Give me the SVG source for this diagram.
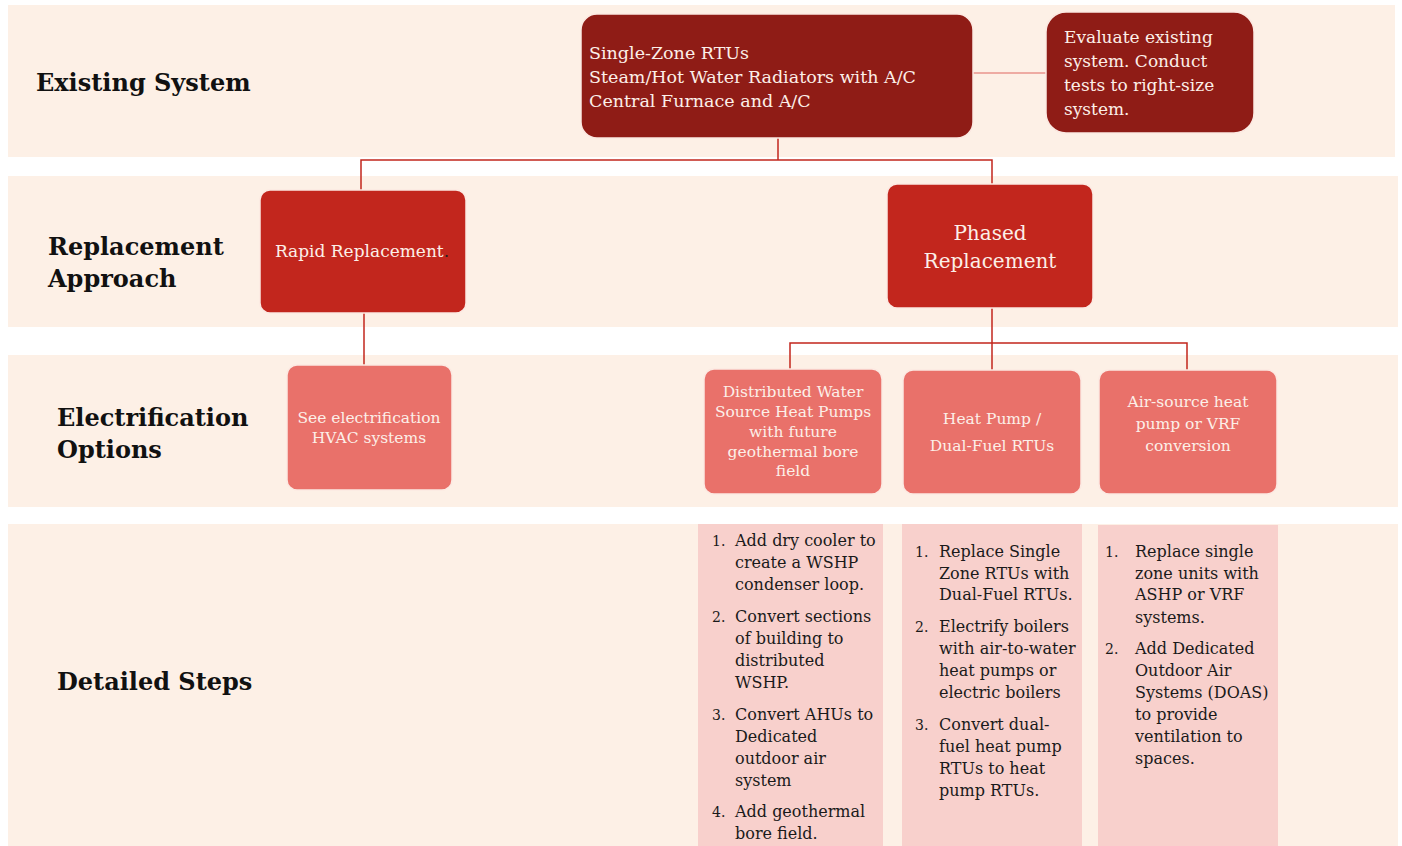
<svg xmlns="http://www.w3.org/2000/svg" width="1402" height="846" viewBox="0 0 1402 846">
<style>
.band{fill:#FDF0E6}
.lbl{font-family:"DejaVu Serif","Liberation Serif",serif;font-weight:bold;font-size:24px;fill:#111}
.box{stroke:#FCE9E2;stroke-width:1.5}
.dark{fill:#8F1C16}
.red{fill:#C2261D}
.sal{fill:#E9716A}
.pink{fill:#F8D0CC}
.wt{font-family:"DejaVu Serif","Liberation Serif",serif;fill:#FCEFE8}
.st{font-family:"DejaVu Serif","Liberation Serif",serif;font-size:16px;fill:#1a1a1a}
.con{fill:none;stroke:#C2261D;stroke-width:1.5}
</style>
<rect width="1402" height="846" fill="#ffffff"/>
<g id="bands">
<rect class="band" x="8" y="5" width="1387" height="152"/>
<rect class="band" x="8" y="176" width="1390" height="151"/>
<rect class="band" x="8" y="355" width="1390" height="152"/>
<rect class="band" x="8" y="524" width="1390" height="322"/>
</g>
<g id="labels">
<text class="lbl" x="36" y="91">Existing System</text>
<text class="lbl" x="48" y="255">Replacement</text>
<text class="lbl" x="48" y="287">Approach</text>
<text class="lbl" x="57" y="426">Electrification</text>
<text class="lbl" x="57" y="458">Options</text>
<text class="lbl" x="57" y="690">Detailed Steps</text>
</g>
<g id="connectors">
<line x1="973" y1="73" x2="1046" y2="73" stroke="#E8958D" stroke-width="1.5"/>
<polyline class="con" points="778,138 778,160"/>
<polyline class="con" points="361,190 361,160 992,160 992,184"/>
<polyline class="con" points="364,313 364,365"/>
<polyline class="con" points="992,308 992,370"/>
<polyline class="con" points="790,369 790,343 1187,343 1187,370"/>
</g>
<g id="existing">
<rect class="box dark" x="581" y="14" width="392" height="124" rx="16"/>
<text class="wt" font-size="17.5" x="589" y="59">Single-Zone RTUs</text>
<text class="wt" font-size="17.5" x="589" y="83">Steam/Hot Water Radiators with A/C</text>
<text class="wt" font-size="17.5" x="589" y="107">Central Furnace and A/C</text>
</g>
<g id="evaluate">
<rect class="box dark" x="1046" y="12" width="208" height="121" rx="20"/>
<text class="wt" font-size="17" x="1064" y="43">Evaluate existing</text>
<text class="wt" font-size="17" x="1064" y="67">system. Conduct</text>
<text class="wt" font-size="17" x="1064" y="91">tests to right-size</text>
<text class="wt" font-size="17" x="1064" y="115">system.</text>
</g>
<g id="rapid">
<rect class="box red" x="260" y="190" width="206" height="123" rx="10"/>
<text class="wt" font-size="17" x="362" y="257" text-anchor="middle">Rapid Replacement<tspan fill="#222">.</tspan></text>
</g>
<g id="phased">
<rect class="box red" x="887" y="184" width="206" height="124" rx="10"/>
<text class="wt" font-size="20" x="990" y="240" text-anchor="middle">Phased</text>
<text class="wt" font-size="20" x="990" y="268" text-anchor="middle">Replacement</text>
</g>
<g id="see-electrification">
<rect class="box sal" x="287" y="365" width="165" height="125" rx="10"/>
<text class="wt" font-size="15.5" x="369" y="423" text-anchor="middle">See electrification</text>
<text class="wt" font-size="15.5" x="369" y="443" text-anchor="middle">HVAC systems</text>
</g>
<g id="distributed">
<rect class="box sal" x="704" y="369" width="178" height="125" rx="10"/>
<text class="wt" font-size="15.5" x="793" y="397" text-anchor="middle">Distributed Water</text>
<text class="wt" font-size="15.5" x="793" y="417" text-anchor="middle">Source Heat Pumps</text>
<text class="wt" font-size="15.5" x="793" y="437" text-anchor="middle">with future</text>
<text class="wt" font-size="15.5" x="793" y="457" text-anchor="middle">geothermal bore</text>
<text class="wt" font-size="15.5" x="793" y="476" text-anchor="middle">field</text>
</g>
<g id="heat-pump">
<rect class="box sal" x="903" y="370" width="178" height="124" rx="10"/>
<text class="wt" font-size="15.5" x="992" y="424" text-anchor="middle">Heat Pump /</text>
<text class="wt" font-size="15.5" x="992" y="451" text-anchor="middle">Dual-Fuel RTUs</text>
</g>
<g id="air-source">
<rect class="box sal" x="1099" y="370" width="178" height="124" rx="10"/>
<text class="wt" font-size="15.5" x="1188" y="407" text-anchor="middle">Air-source heat</text>
<text class="wt" font-size="15.5" x="1188" y="429" text-anchor="middle">pump or VRF</text>
<text class="wt" font-size="15.5" x="1188" y="451" text-anchor="middle">conversion</text>
</g>
<g id="steps-wshp">
<rect class="pink" x="698" y="524" width="185" height="322"/>
<text class="st"><tspan x="712" y="546" font-size="14">1.</tspan><tspan x="735" y="546">Add dry cooler to</tspan><tspan x="735" y="568">create a WSHP</tspan><tspan x="735" y="590">condenser loop.</tspan>
<tspan x="712" y="622" font-size="14">2.</tspan><tspan x="735" y="622">Convert sections</tspan><tspan x="735" y="644">of building to</tspan><tspan x="735" y="666">distributed</tspan><tspan x="735" y="688">WSHP.</tspan>
<tspan x="712" y="720" font-size="14">3.</tspan><tspan x="735" y="720">Convert AHUs to</tspan><tspan x="735" y="742">Dedicated</tspan><tspan x="735" y="764">outdoor air</tspan><tspan x="735" y="786">system</tspan>
<tspan x="712" y="817" font-size="14">4.</tspan><tspan x="735" y="817">Add geothermal</tspan><tspan x="735" y="839">bore field.</tspan></text>
</g>
<g id="steps-dualfuel">
<rect class="pink" x="902" y="524" width="180" height="322"/>
<text class="st"><tspan x="915" y="557" font-size="14">1.</tspan><tspan x="939" y="557">Replace Single</tspan><tspan x="939" y="579">Zone RTUs with</tspan><tspan x="939" y="600">Dual-Fuel RTUs.</tspan>
<tspan x="915" y="632" font-size="14">2.</tspan><tspan x="939" y="632">Electrify boilers</tspan><tspan x="939" y="654">with air-to-water</tspan><tspan x="939" y="676">heat pumps or</tspan><tspan x="939" y="698">electric boilers</tspan>
<tspan x="915" y="730" font-size="14">3.</tspan><tspan x="939" y="730">Convert dual-</tspan><tspan x="939" y="752">fuel heat pump</tspan><tspan x="939" y="774">RTUs to heat</tspan><tspan x="939" y="796">pump RTUs.</tspan></text>
</g>
<g id="steps-ashp">
<rect class="pink" x="1098" y="525" width="180" height="321"/>
<text class="st"><tspan x="1105" y="557" font-size="14">1.</tspan><tspan x="1135" y="557">Replace single</tspan><tspan x="1135" y="579">zone units with</tspan><tspan x="1135" y="600">ASHP or VRF</tspan><tspan x="1135" y="623">systems.</tspan>
<tspan x="1105" y="654" font-size="14">2.</tspan><tspan x="1135" y="654">Add Dedicated</tspan><tspan x="1135" y="676">Outdoor Air</tspan><tspan x="1135" y="698">Systems (DOAS)</tspan><tspan x="1135" y="720">to provide</tspan><tspan x="1135" y="742">ventilation to</tspan><tspan x="1135" y="764">spaces.</tspan></text>
</g>
</svg>
